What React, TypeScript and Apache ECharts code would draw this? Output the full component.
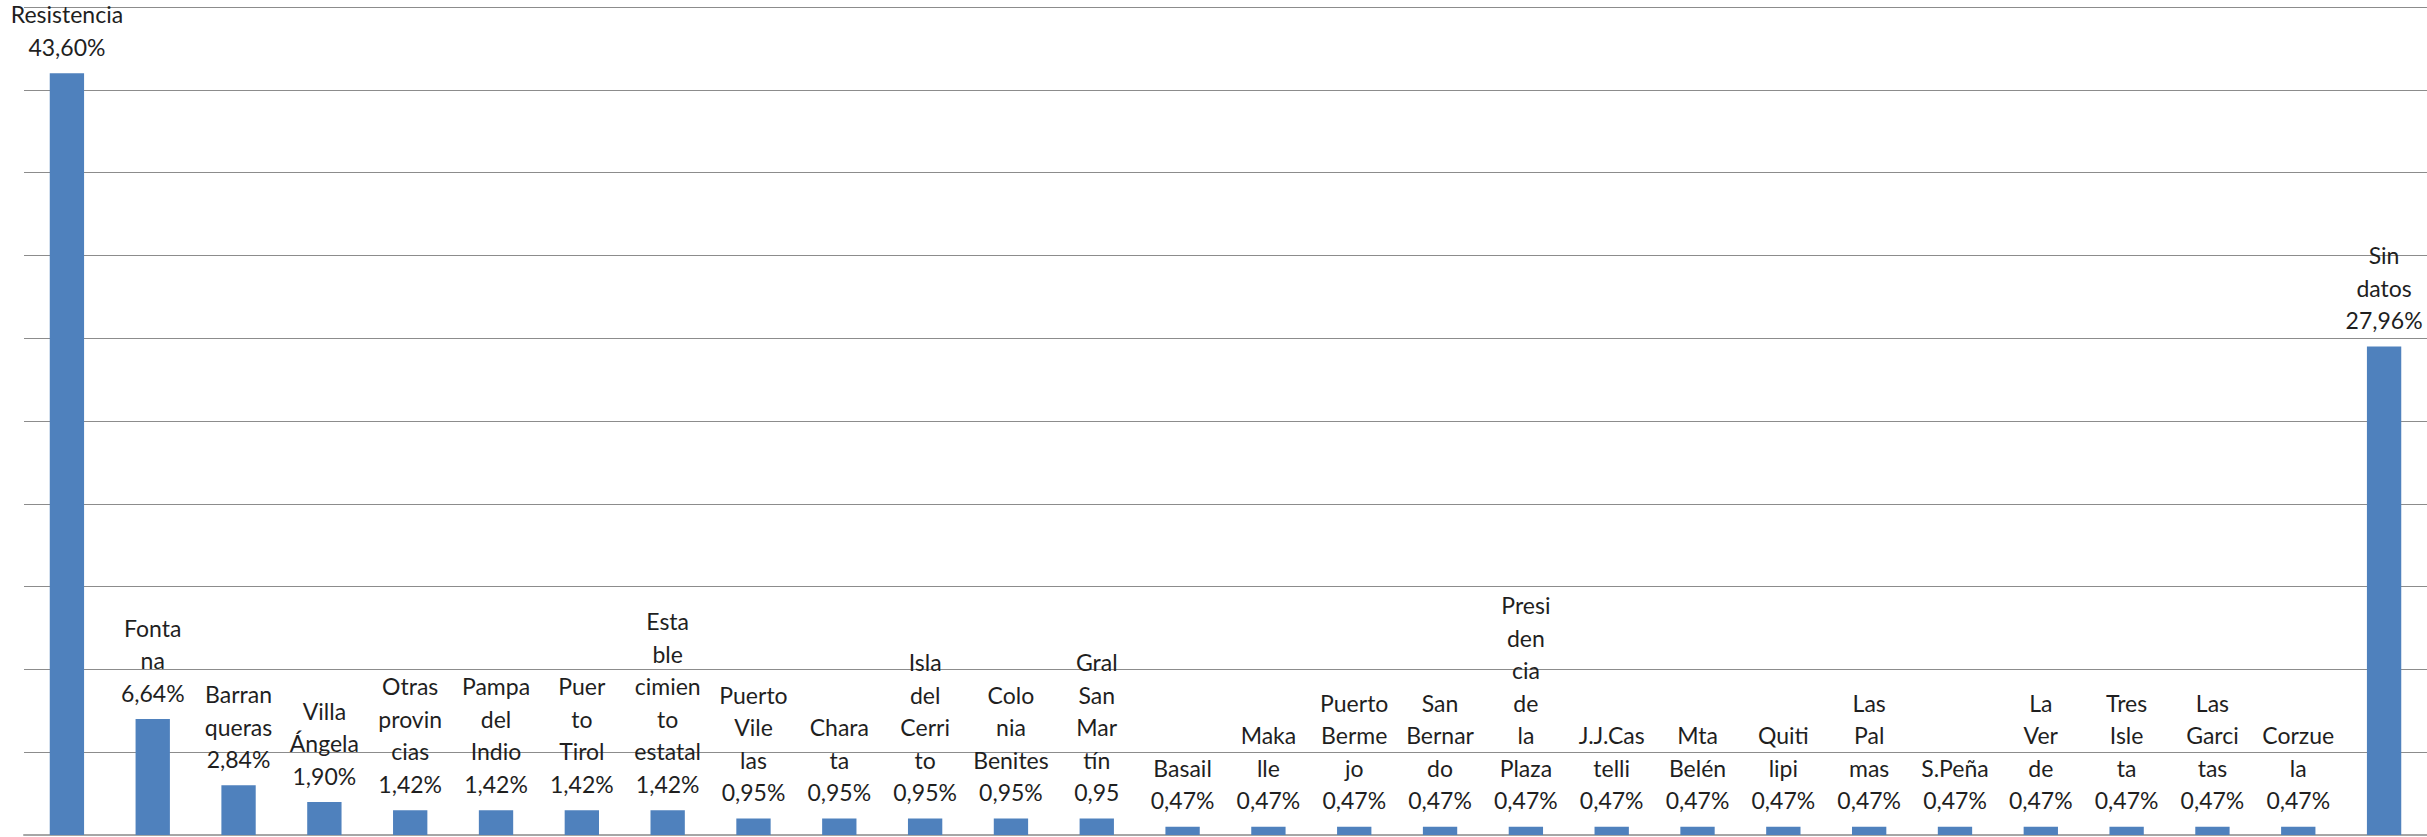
import React, { useEffect, useRef } from "react";
import * as echarts from "echarts";

// Category names (as in the chart, with the line breaks the labels show)
const categoryLabels: string[] = [
  "Resistencia",
  "Fonta\nna",
  "Barran\nqueras",
  "Villa\nÁngela",
  "Otras\nprovin\ncias",
  "Pampa\ndel\nIndio",
  "Puer\nto\nTirol",
  "Esta\nble\ncimien\nto\nestatal",
  "Puerto\nVile\nlas",
  "Chara\nta",
  "Isla\ndel\nCerri\nto",
  "Colo\nnia\nBenites",
  "Gral\nSan\nMar\ntín",
  "Basail",
  "Maka\nlle",
  "Puerto\nBerme\njo",
  "San\nBernar\ndo",
  "Presi\nden\ncia\nde\nla\nPlaza",
  "J.J.Cas\ntelli",
  "Mta\nBelén",
  "Quiti\nlipi",
  "Las\nPal\nmas",
  "S.Peña",
  "La\nVer\nde",
  "Tres\nIsle\nta",
  "Las\nGarci\ntas",
  "Corzue\nla",
  "Sin\ndatos",
];

// Bar heights (counts read against the value scale)
const values: number[] = [
  92, 14, 6, 4, 3, 3, 3, 3, 2, 2, 2, 2, 2, 1, 1, 1, 1, 1, 1, 1, 1, 1, 1, 1, 1, 1, 1, 59,
];

// Percentage labels as printed
const percentLabels: string[] = [
  "43,60%", "6,64%", "2,84%", "1,90%", "1,42%", "1,42%", "1,42%", "1,42%",
  "0,95%", "0,95%", "0,95%", "0,95%", "0,95",
  "0,47%", "0,47%", "0,47%", "0,47%", "0,47%", "0,47%", "0,47%", "0,47%",
  "0,47%", "0,47%", "0,47%", "0,47%", "0,47%", "0,47%",
  "27,96%",
];

const yMin = 0;
const yMax = 100;
const yInterval = 10;

export default function App() {
  const ref = useRef<HTMLDivElement>(null);

  useEffect(() => {
    if (!ref.current) return;
    const chart = echarts.init(ref.current, null, { renderer: "svg" });
    chart.setOption({
      animation: false,
      backgroundColor: "#ffffff",
      grid: { left: 24, right: 0, top: 7, bottom: 2, containLabel: false },
      xAxis: {
        type: "category",
        data: categoryLabels,
        axisLine: { show: true, lineStyle: { color: "#a6a6a6", width: 2 } },
        axisTick: { show: false },
        axisLabel: { show: false },
        splitLine: { show: false },
      },
      yAxis: {
        type: "value",
        min: yMin,
        max: yMax,
        interval: yInterval,
        axisLine: { show: false },
        axisTick: { show: false },
        axisLabel: { show: false },
        splitLine: { show: true, lineStyle: { color: "#8c8c8c", width: 1 } },
      },
      series: [
        {
          type: "bar",
          data: values,
          barCategoryGap: "60%",
          itemStyle: { color: "#4f81bd" },
          label: {
            show: true,
            position: "top",
            distance: 10,
            color: "#1f1f1f",
            fontFamily: "Lato",
            fontSize: 23,
            lineHeight: 32.5,
            align: "center",
            formatter: (p: any) => categoryLabels[p.dataIndex] + "\n" + percentLabels[p.dataIndex],
          },
        },
      ],
    });
    return () => chart.dispose();
  }, []);

  return (
    <div
      ref={ref}
      style={{ position: "absolute", left: 0, top: 0, width: 2427, height: 837 }}
    />
  );
}
